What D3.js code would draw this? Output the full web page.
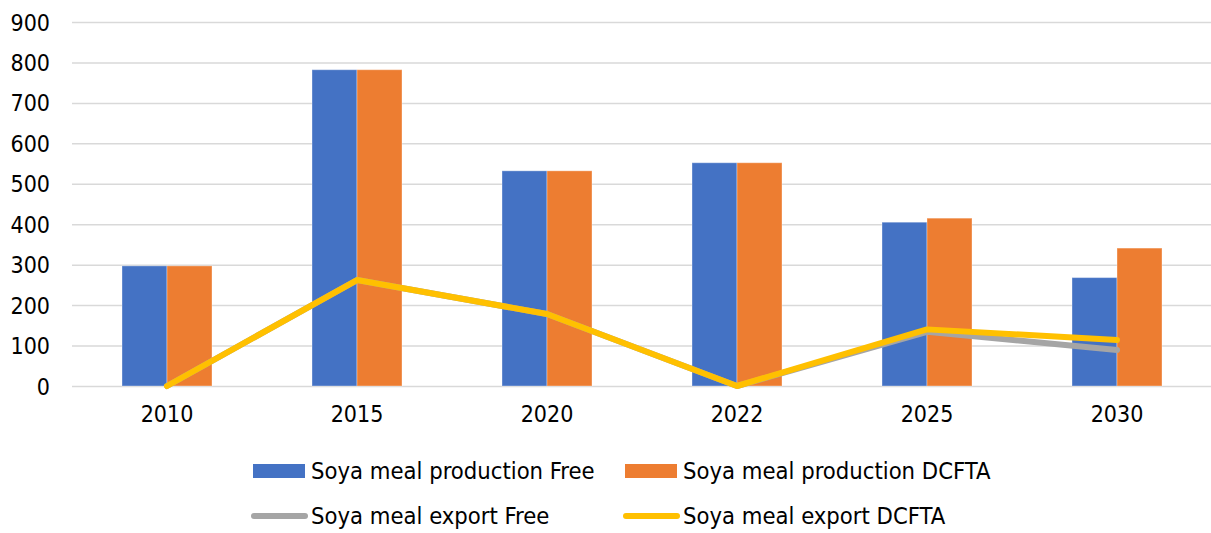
<!DOCTYPE html>
<html>
<head>
  <style>
    body { margin: 0; background: #fff; }
    text { font-family: "DejaVu Sans Condensed", "DejaVu Sans", sans-serif; fill: #000; }
    .grid line { stroke: #d9d9d9; stroke-width: 1.5; }
    .grid path { display: none; }
    .axis path, .axis line { display: none; }
    .axis text { font-size: 23px; }
    .legend text { font-size: 23.6px; }
  </style>
</head>
<body>
  <svg id="chart" width="1211" height="533"></svg>

  <script src="https://d3js.org/d3.v7.min.js"></script>
  <script>
    // data
    const years = ["2010", "2015", "2020", "2022", "2025", "2030"];
    const prodFree = [297, 782, 532, 552, 405, 268];
    const prodDcfta = [297, 782, 532, 552, 415, 341];
    const exportFree = [0, 262, 178, 0, 134, 89];
    const exportDcfta = [0, 262, 178, 0, 140, 114];
    const yTicks = [0, 100, 200, 300, 400, 500, 600, 700, 800, 900];
    const seriesNames = ["Soya meal production Free", "Soya meal production DCFTA",
                         "Soya meal export Free", "Soya meal export DCFTA"];
    const colors = ["#4472C4", "#ED7D31", "#A5A5A5", "#FFC000"];

    const svg = d3.select("#chart");
    const margin = { top: 22, left: 72 };
    const plotW = 1140, plotH = 364;

    const chart = svg.append("g")
      .attr("transform", `translate(${margin.left}, ${margin.top})`);

    const x = d3.scaleBand().domain(years).range([0, plotW]);
    const y = d3.scaleLinear().domain([0, 900]).range([plotH, 0]);
    const barW = 45;

    // gridlines
    chart.append("g")
      .attr("class", "grid")
      .call(d3.axisLeft(y).tickValues(yTicks).tickSize(-1211).tickFormat(""));

    // y labels
    chart.append("g")
      .attr("class", "axis")
      .attr("transform", "translate(-22, 0)")
      .call(d3.axisLeft(y).tickValues(yTicks).tickSize(0).tickPadding(0))
      .selectAll("text").attr("dy", "0.35em");

    // x labels
    chart.append("g")
      .attr("class", "axis")
      .attr("transform", `translate(0, ${plotH})`)
      .call(d3.axisBottom(x).tickSize(0).tickPadding(20));

    // bars
    [prodFree, prodDcfta].forEach((vals, i) => {
      chart.append("g").selectAll("rect")
        .data(vals)
        .join("rect")
        .attr("x", (d, j) => x(years[j]) + x.bandwidth() / 2 - barW + i * barW)
        .attr("y", d => y(d))
        .attr("width", barW)
        .attr("height", d => plotH - y(d))
        .attr("fill", colors[i])
        .attr("stroke", "rgba(255,255,255,0.35)")
        .attr("stroke-width", 1);
    });

    // lines
    const line = d3.line()
      .x((d, j) => x(years[j]) + x.bandwidth() / 2)
      .y(d => y(d));

    [exportFree, exportDcfta].forEach((vals, i) => {
      chart.append("path")
        .datum(vals)
        .attr("d", line)
        .attr("fill", "none")
        .attr("stroke", colors[i + 2])
        .attr("stroke-width", 6)
        .attr("stroke-linecap", "round")
        .attr("stroke-linejoin", "round");
    });

    // legend
    const legend = svg.append("g").attr("class", "legend");
    const legPos = [[253, 471], [625, 471], [253, 516], [625, 516]];
    seriesNames.forEach((name, i) => {
      const [lx, ly] = legPos[i];
      if (i < 2) {
        legend.append("rect")
          .attr("x", lx).attr("y", ly - 7)
          .attr("width", 52).attr("height", 14)
          .attr("fill", colors[i]);
      } else {
        legend.append("line")
          .attr("x1", lx + 1).attr("x2", lx + 52)
          .attr("y1", ly).attr("y2", ly)
          .attr("stroke", colors[i])
          .attr("stroke-width", 6)
          .attr("stroke-linecap", "round");
      }
      legend.append("text")
        .attr("x", lx + 58).attr("y", ly)
        .attr("dy", "0.35em")
        .text(name);
    });
  </script>
</body>
</html>
